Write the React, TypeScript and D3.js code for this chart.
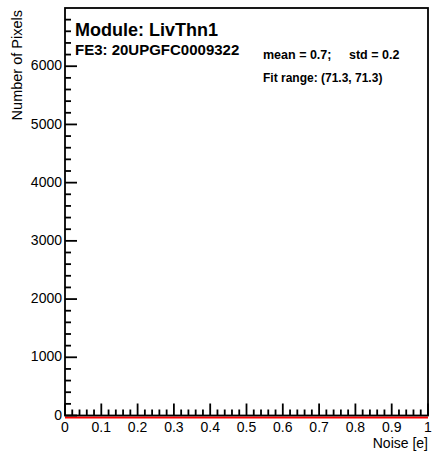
import React from "react";
import * as d3 from "d3";

const W = 435;
const H = 455;

// Axis domains and ticks
const xDomain = [0, 1];
const yDomain = [0, 7000];
const xMajorTicks = [0, 0.1, 0.2, 0.3, 0.4, 0.5, 0.6, 0.7, 0.8, 0.9, 1];
const xTickLabels = ["0", "0.1", "0.2", "0.3", "0.4", "0.5", "0.6", "0.7", "0.8", "0.9", "1"];
const yMajorTicks = [0, 1000, 2000, 3000, 4000, 5000, 6000];
const yTickLabels = ["0", "1000", "2000", "3000", "4000", "5000", "6000"];

// Histogram (all bins at zero visually)
const histX = [0, 1];
const histY = [0, 0];

const title = "Module: LivThn1";
const chipLabel = "FE3: 20UPGFC0009322";
const meanLabel = "mean = 0.7;";
const stdLabel = "std = 0.2";
const fitLabel = "Fit range: (71.3, 71.3)";
const xTitle = "Noise [e]";
const yTitle = "Number of Pixels";

const FONT = "'Liberation Sans', Arial, Helvetica, sans-serif";

export default function App() {
  const left = 65, right = 428, top = 8, bottom = 415.5;
  const x = d3.scaleLinear().domain(xDomain).range([left, right]);
  const y = d3.scaleLinear().domain(yDomain).range([bottom, top]);

  const xMinor = d3.range(0, 50).map((i) => i * 0.02).filter((v) => Math.abs(Math.round(v * 10) - v * 10) > 1e-6);
  const yMinor = d3.range(0, 35).map((i) => i * 200).filter((v) => v % 1000 !== 0);

  const line = d3
    .line<number>()
    .x((_, i) => x(histX[i]))
    .y((_, i) => y(histY[i]));

  const majorLen = 12;
  const minorLen = 6;

  return (
    <svg
      width={W}
      height={H}
      style={{ position: "absolute", left: 0, top: 0, background: "#fff" }}
      fontFamily={FONT}
    >
      <rect x={0} y={0} width={W} height={H} fill="#fff" />
      {/* histogram line */}
      <path d={line(histY) || ""} fill="none" stroke="#ff0000" strokeWidth={2} transform="translate(0,2)" />

      {/* frame */}
      <rect x={left} y={top} width={right - left} height={bottom - top} fill="none" stroke="#000" strokeWidth={1.8} />

      {/* y ticks */}
      {yMajorTicks.map((v) => (
        <line key={"ym" + v} x1={left} x2={left + majorLen} y1={y(v)} y2={y(v)} stroke="#000" strokeWidth={1.8} />
      ))}
      {yMinor.map((v) => (
        <line key={"yn" + v} x1={left} x2={left + minorLen} y1={y(v)} y2={y(v)} stroke="#000" strokeWidth={1.8} />
      ))}
      {yMajorTicks.map((v, i) => (
        <text key={"yl" + v} x={left - 3} y={y(v)} dy="0.3em" textAnchor="end" fontSize={14} fill="#000">
          {yTickLabels[i]}
        </text>
      ))}

      {/* x ticks */}
      {xMajorTicks.map((v) => (
        <line key={"xm" + v} x1={x(v)} x2={x(v)} y1={bottom} y2={bottom - majorLen} stroke="#000" strokeWidth={1.8} />
      ))}
      {xMinor.map((v) => (
        <line key={"xn" + v} x1={x(v)} x2={x(v)} y1={bottom} y2={bottom - minorLen} stroke="#000" strokeWidth={1.8} />
      ))}
      {xMajorTicks.map((v, i) => (
        <text key={"xl" + v} x={x(v)} y={bottom + 16.5} textAnchor="middle" fontSize={14} fill="#000">
          {xTickLabels[i]}
        </text>
      ))}

      {/* axis titles */}
      <text x={right} y={448} textAnchor="end" fontSize={14} fill="#000">
        {xTitle}
      </text>
      <text transform={`translate(22,${top + 2}) rotate(-90)`} textAnchor="end" fontSize={14.5} fill="#000">
        {yTitle}
      </text>

      {/* annotations */}
      <text x={75} y={36} fontSize={18} fontWeight="bold" fill="#000">{title}</text>
      <text x={75} y={55} fontSize={15} fontWeight="bold" fill="#000">{chipLabel}</text>
      <text x={263} y={59} fontSize={12.5} fontWeight="bold" fill="#000">{meanLabel}</text>
      <text x={349} y={59} fontSize={12.5} fontWeight="bold" fill="#000">{stdLabel}</text>
      <text x={263} y={82} fontSize={12} fontWeight="bold" fill="#000">{fitLabel}</text>
    </svg>
  );
}
